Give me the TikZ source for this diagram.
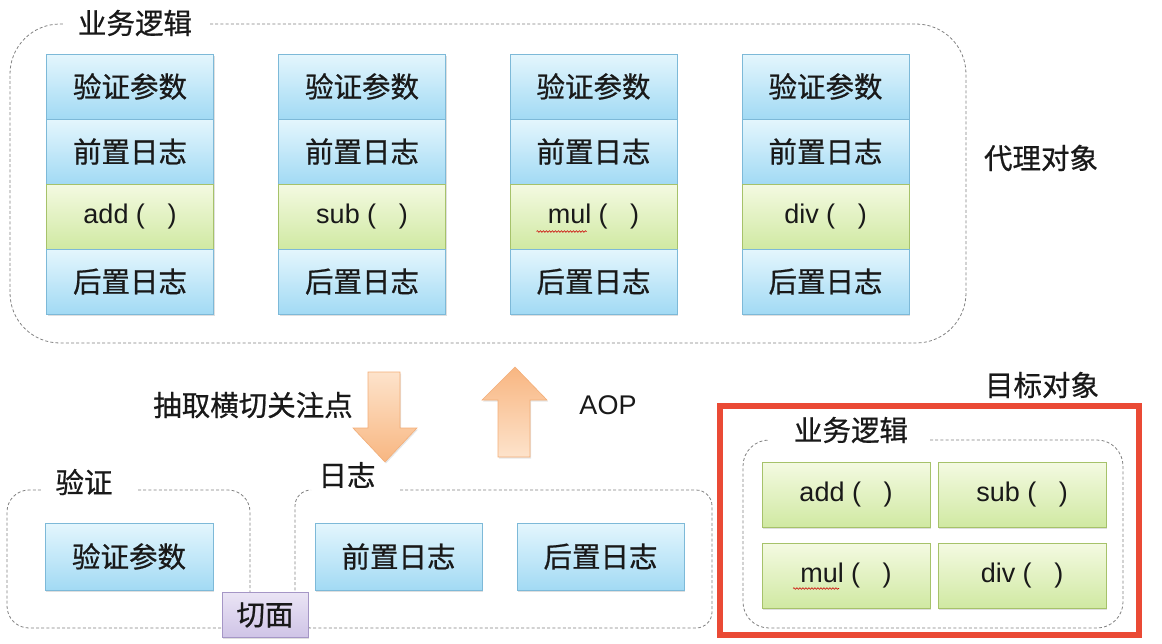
\documentclass[tikz,border=0pt]{standalone}
\usepackage{fontspec}
\setmainfont{Liberation Sans}
\newfontfamily\cjk{Noto Sans CJK SC}[FakeBold=0.7]
\usetikzlibrary{shadows,calc,decorations.pathmorphing}
\definecolor{bluetop}{HTML}{E4F6FD}
\definecolor{bluebot}{HTML}{A2DAF4}
\definecolor{blueedge}{HTML}{7DB9D8}
\definecolor{greentop}{HTML}{F4FAE2}
\definecolor{greenbot}{HTML}{D0E9A2}
\definecolor{greenedge}{HTML}{A6C26A}
\definecolor{purptop}{HTML}{EAE4F5}
\definecolor{purpbot}{HTML}{CFC4E6}
\definecolor{purpedge}{HTML}{A596C6}
\definecolor{orlight}{HTML}{FDE3CB}
\definecolor{ordark}{HTML}{F8B681}
\definecolor{oredge}{HTML}{F3AE78}
\definecolor{dashgray}{HTML}{808080}
\definecolor{redframe}{HTML}{EA4A35}
\begin{document}
\begin{tikzpicture}[x=1pt,y=-1pt,
  cell/.style={rectangle, minimum width=167pt, minimum height=65pt, inner sep=0pt, line width=0.9pt,
    drop shadow={shadow xshift=1.3pt, shadow yshift=-1.6pt, opacity=0.25}},
  bluecell/.style={cell, draw=blueedge, top color=bluetop, bottom color=bluebot, text=black!90, font=\cjk\fontsize{28.5}{32}\selectfont},
  greencell/.style={cell, draw=greenedge, top color=greentop, bottom color=greenbot, text=black!90, font=\fontsize{27}{32}\selectfont},
  zh/.style={font=\cjk\fontsize{28.5}{32}\selectfont, inner sep=0pt, text=black!90},
  en/.style={font=\fontsize{27}{32}\selectfont, inner sep=0pt, text=black!90},
  grp/.style={draw=dashgray, line width=0.8pt, dash pattern=on 3pt off 2.2pt},
  wavy/.style={draw=red!80!black, line width=0.6pt, decorate, decoration={snake, amplitude=0.8pt, segment length=3pt}},
  bigarrow/.style={draw=oredge, line width=0.6pt, drop shadow={shadow xshift=1pt, shadow yshift=-1.5pt, opacity=0.2}}
]
\useasboundingbox (0,0) rectangle (1162,643);

% ---- top group (proxy object) ----
\draw[grp, rounded corners=50pt] (210,24) -- (966,24) -- (966,343) -- (10,343) -- (10,24) -- (65,24);
\node[zh] (toptitle) at (135,23) {业务逻辑};
\node[zh] (proxy) at (1041,158) {代理对象};

\foreach \i/\x/\f in {1/130/add,2/362/sub,3/593.5/mul,4/825.5/div}{
  \node[bluecell] (v\i) at (\x,86.5) {验证参数};
  \node[bluecell] (p\i) at (\x,151.5) {前置日志};
  \node[greencell] (m\i) at (\x,216.5) {\f\ (\ \ \ )};
  \node[bluecell] (a\i) at (\x,281.5) {后置日志};
}
\draw[wavy] ($(m3.center)+(-57,15)$) -- ($(m3.center)+(-7,15)$);

% ---- arrows ----
\shade[bigarrow, top color=orlight, bottom color=ordark]
  (368,372) -- (400,372) -- (400,428) -- (417,428) -- (385,462) -- (353,428) -- (368,428) -- cycle;
\shade[bigarrow, top color=ordark, bottom color=orlight]
  (498,457) -- (530,457) -- (530,400) -- (547,400) -- (515,367) -- (482,400) -- (498,400) -- cycle;
\node[zh] (extract) at (253,405) {抽取横切关注点};
\node[en] (aop) at (608,405) {AOP};

% ---- bottom left: validation ----
\draw[grp, rounded corners=22pt] (138,490) -- (250,490) -- (250,628) -- (7,628) -- (7,490) -- (43,490);
\node[zh] (valtitle) at (84,482) {验证};
\node[bluecell, minimum width=168pt, minimum height=67pt] (valp) at (129,556.5) {验证参数};

% ---- bottom middle: logging ----
\draw[grp, rounded corners=16pt] (400,490) -- (712,490) -- (712,628) -- (295,628) -- (295,490) -- (311,490);
\node[zh] (logtitle) at (347,475) {日志};
\node[bluecell, minimum width=167pt, minimum height=67pt] (prelog) at (398.5,556.5) {前置日志};
\node[bluecell, minimum width=167pt, minimum height=67pt] (postlog) at (600.5,556.5) {后置日志};

% ---- aspect ----
\node[cell, draw=purpedge, top color=purptop, bottom color=purpbot, minimum width=86pt, minimum height=45pt,
  text=black!90, font=\cjk\fontsize{28.5}{32}\selectfont] (aspect) at (265,615) {切面};

% ---- target object ----
\node[zh] (target) at (1042,385) {目标对象};
\draw[draw=redframe, line width=5.5pt] (720,406) rectangle (1139,635);
\draw[grp, rounded corners=26pt] (930,440) -- (1123,440) -- (1123,628) -- (743,628) -- (743,440) -- (769,440);
\node[zh] (tgttitle) at (851,430) {业务逻辑};
\node[greencell, minimum width=168pt] (tadd) at (846,494.5) {add (\ \ \ )};
\node[greencell, minimum width=168pt] (tsub) at (1022,494.5) {sub (\ \ \ )};
\node[greencell, minimum width=168pt] (tmul) at (846,575.5) {mul (\ \ \ )};
\node[greencell, minimum width=168pt] (tdiv) at (1022,575.5) {div (\ \ \ )};
\draw[wavy] ($(tmul.center)+(-53,13)$) -- ($(tmul.center)+(-7,13)$);
\end{tikzpicture}
\end{document}
